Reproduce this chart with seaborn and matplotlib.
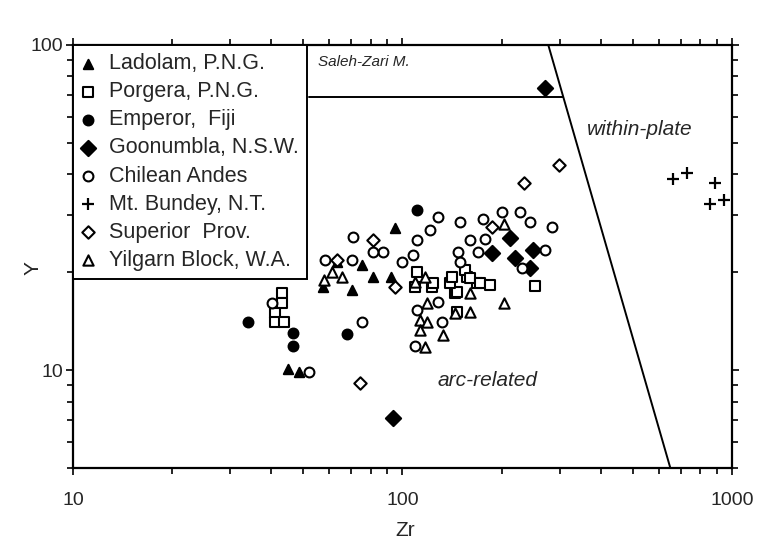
import numpy as np
import pandas as pd
import matplotlib
matplotlib.use('Agg')
import matplotlib.pyplot as plt
from matplotlib.ticker import NullFormatter, LogLocator
import seaborn as sns

# ---------------------------------------------------------------
# datos (Zr ppm, Y ppm)
# ---------------------------------------------------------------
ladolam_zr = [44.9, 48.5, 57.4, 70.3, 81.4, 92.3, 94.9, 75.4, 63.3]
ladolam_y = [10.1, 9.9, 18.0, 17.6, 19.3, 19.3, 27.3, 21.1, 21.5]

porgera_zr = [43.1, 43.1, 41.0, 41.0, 43.7, 110.6, 109.1, 122.9, 144.3, 157, 168,
              155, 160, 172, 184, 146, 146, 252, 139, 141, 124]
porgera_y = [17.3, 16.1, 15.0, 14.1, 14.1, 20.0, 18.0, 18.0, 17.3, 19.3, 18.5,
             20.3, 19.2, 18.5, 18.3, 17.4, 15.1, 18.1, 18.5, 19.3, 18.5]

emperor_zr = [34.0, 46.5, 46.5, 67.9, 110.6]
emperor_y = [14.1, 13.0, 11.9, 12.9, 31.1]

goonumbla_zr = [93.5, 212, 187, 219, 249, 244, 271]
goonumbla_y = [7.1, 25.5, 22.9, 22.1, 23.4, 20.6, 73.8]

chile_zr = [75.4, 52.0, 58.2, 40.2, 87.3, 99.7, 107.6, 110.6, 128, 149.5, 175, 178,
            147, 149.5, 128, 110.6, 109, 132, 200, 227, 244, 284, 271, 230, 81.4,
            121, 160, 169.5, 70.3, 70.8]
chile_y = [14.1, 9.9, 21.8, 16.1, 23.1, 21.5, 22.6, 25.1, 29.6, 28.5, 29.2, 25.3,
           23.1, 21.5, 16.2, 15.3, 11.9, 14.1, 30.6, 30.6, 28.5, 27.5, 23.4, 20.6, 23.1,
           27.0, 25.1, 23.1, 21.8, 25.6]

bundey_zr = [662, 730, 888, 857, 946]
bundey_y = [38.7, 40.4, 37.6, 32.4, 33.4]

superior_zr = [298.5, 234, 74.3, 94.9, 187, 81.4, 63.3]
superior_y = [42.7, 37.6, 9.1, 18.0, 27.5, 25.1, 21.8]

yilgarn_zr = [65.5, 61.1, 203, 203, 117, 160, 118.7, 144, 160, 113, 118.7, 113, 133,
              117, 109, 57.8]
yilgarn_y = [19.3, 20.0, 28.1, 16.1, 19.3, 17.3, 16.1, 15.0, 15.1, 14.3, 14.1, 13.3,
             12.8, 11.8, 18.7, 18.9]

grupos = ['Ladolam, P.N.G.', 'Porgera, P.N.G.', 'Emperor,  Fiji', 'Goonumbla, N.S.W.',
          'Chilean Andes', 'Mt. Bundey, N.T.', 'Superior  Prov.', 'Yilgarn Block, W.A.']
zr_list = [ladolam_zr, porgera_zr, emperor_zr, goonumbla_zr, chile_zr, bundey_zr,
           superior_zr, yilgarn_zr]
y_list = [ladolam_y, porgera_y, emperor_y, goonumbla_y, chile_y, bundey_y,
          superior_y, yilgarn_y]

# limites de campos
linea_h_zr = [52, 307]
linea_h_y = [69, 69]
linea_d_zr = [277, 650]
linea_d_y = [100, 5]

df = pd.concat([pd.DataFrame({'Zr': z, 'Y': y, 'grupo': g})
                for g, z, y in zip(grupos, zr_list, y_list)], ignore_index=True)

# ---------------------------------------------------------------
# estilo
# ---------------------------------------------------------------
sns.set_style('ticks')
plt.rcParams['font.family'] = ['Liberation Sans', 'DejaVu Sans']

estilos = {
    'Ladolam, P.N.G.':     dict(marker='^', facecolor='black', s=45),
    'Porgera, P.N.G.':     dict(marker='s', facecolor='white', s=50),
    'Emperor,  Fiji':      dict(marker='o', facecolor='black', s=50),
    'Goonumbla, N.S.W.':   dict(marker='D', facecolor='black', s=60),
    'Chilean Andes':       dict(marker='o', facecolor='white', s=50),
    'Mt. Bundey, N.T.':    dict(marker='+', facecolor='black', s=70),
    'Superior  Prov.':     dict(marker='D', facecolor='white', s=40),
    'Yilgarn Block, W.A.': dict(marker='^', facecolor='white', s=55),
}

fig = plt.figure(figsize=(7.59, 5.44), dpi=100)
ax = fig.add_axes([0.0962, 0.1397, 0.8682, 0.7776])

for g in grupos:
    sub = df[df['grupo'] == g]
    est = estilos[g]
    if est['marker'] == '+':
        sns.scatterplot(data=sub, x='Zr', y='Y', marker='+', color='black', s=est['s'],
                        linewidth=1.6, label=g, ax=ax, zorder=3)
    else:
        sns.scatterplot(data=sub, x='Zr', y='Y', marker=est['marker'],
                        facecolor=est['facecolor'], edgecolor='black', s=est['s'],
                        linewidth=1.5, label=g, ax=ax, zorder=3)

ax.plot(linea_h_zr, linea_h_y, color='black', linewidth=1.4)
ax.plot(linea_d_zr, linea_d_y, color='black', linewidth=1.4)

ax.set_xscale('log')
ax.set_yscale('log')
ax.set_xlim(10, 1000)
ax.set_ylim(5, 100)

ax.set_xticks([10, 100, 1000])
ax.set_xticklabels(['10', '100', '1000'])
ax.set_yticks([10, 100])
ax.set_yticklabels(['10', '100'])
ax.xaxis.set_minor_locator(LogLocator(base=10, subs=np.arange(2, 10)))
ax.yaxis.set_minor_locator(LogLocator(base=10, subs=np.arange(2, 10)))
ax.xaxis.set_minor_formatter(NullFormatter())
ax.yaxis.set_minor_formatter(NullFormatter())

ax.tick_params(which='both', direction='out', top=True, right=True,
               labelsize=14, width=1.2, color='black')
ax.tick_params(which='major', length=5)
ax.tick_params(which='minor', length=4)
ax.tick_params(axis='x', pad=12)
ax.tick_params(axis='y', pad=2)

for sp in ax.spines.values():
    sp.set_linewidth(1.6)
    sp.set_color('black')

ax.set_xlabel('Zr', fontsize=15)
ax.set_ylabel('Y', fontsize=15)
ax.xaxis.set_label_coords(0.504, -0.125)
ax.yaxis.set_label_coords(-0.047, 0.473)

ax.text(55.4, 88.7, 'Saleh-Zari M.', fontsize=11, style='italic', va='center', ha='left')
ax.text(363, 54.8, 'within-plate', fontsize=15, style='italic', va='center', ha='left')
ax.text(128, 9.3, 'arc-related', fontsize=15, style='italic', va='center', ha='left')

leg = ax.legend(loc='upper left', borderaxespad=0, fancybox=False, frameon=True,
                edgecolor='black', framealpha=1, fontsize=15.5, labelspacing=0.33,
                handlelength=0.6, handletextpad=0.7, borderpad=0.38, markerscale=1.0)
leg.get_frame().set_linewidth(1.4)

plt.savefig('out.png', dpi=100)
plt.close()
